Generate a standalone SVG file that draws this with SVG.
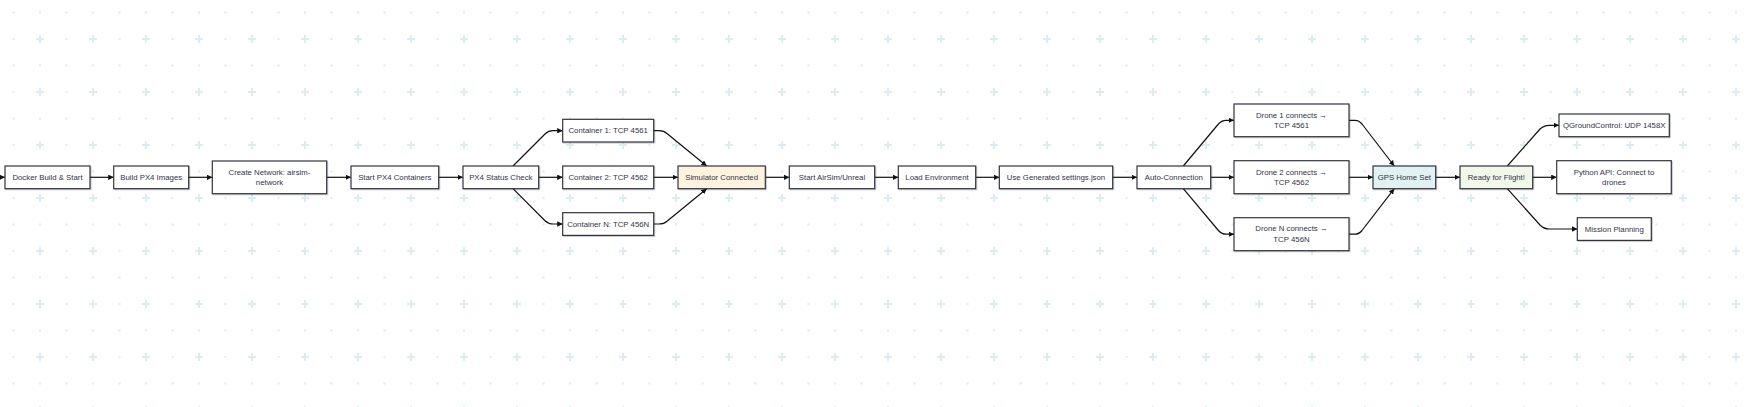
<svg xmlns="http://www.w3.org/2000/svg" width="1752" height="407" viewBox="0 0 1752 407">
<defs>
<pattern id="grid" patternUnits="userSpaceOnUse" x="0" y="0" width="53" height="53">
<circle cx="13.5" cy="12.5" r="1.3" fill="#ddf0f3"/>
<circle cx="40" cy="12.5" r="1.3" fill="#ddf0f3"/>
<circle cx="13.5" cy="39" r="1.3" fill="#ddf0f3"/>
<rect x="36" y="38" width="8" height="2" fill="#daeef2"/>
<rect x="39" y="35" width="2" height="8" fill="#daeef2"/>
</pattern>
<marker id="arr" viewBox="0 0 10 10" refX="10" refY="5" markerWidth="5.5" markerHeight="5.5" orient="auto" markerUnits="userSpaceOnUse">
<path d="M0,0 L10,5 L0,10 z" fill="#111"/>
</marker>
<filter id="sh" x="-10%" y="-20%" width="120%" height="150%">
<feDropShadow dx="1" dy="1" stdDeviation="0.6" flood-color="#000" flood-opacity="0.2"/>
</filter>
<style>
.n rect{fill:#fff;stroke:#333340;stroke-width:1.2;filter:url(#sh)}
.n text{font-family:"Liberation Sans",Arial,sans-serif;font-size:7.8px;fill:#333348;text-anchor:middle;dominant-baseline:central}
.sim rect{fill:#fff3e0}
.gps rect{fill:#e0f2f1}
.rdy rect{fill:#f1f8e9}
.e path{fill:none;stroke:#111;stroke-width:1.2;marker-end:url(#arr)}
</style>
</defs>
<rect width="1752" height="407" fill="#fff"/>
<rect width="1752" height="407" fill="url(#grid)"/>

<g id="connectors" class="e">
<path d="M-10,177.3 L5,177.3"/>
<path d="M90,177.3 L113.7,177.3"/>
<path d="M188.7,177.3 L212.3,177.3"/>
<path d="M326.7,177.3 L351,177.3"/>
<path d="M438.7,177.3 L463,177.3"/>
<path d="M513,166 L545,134 Q548.5,130.7 553,130.7 L562.7,130.7"/>
<path d="M538.7,177.3 L562.7,177.3"/>
<path d="M513,188.7 L545,220.7 Q548.5,224 553,224 L562.7,224"/>
<path d="M653.7,130.7 L659,130.7 Q664,130.7 667,133.5 L706.7,166"/>
<path d="M653.7,177.3 L678,177.3"/>
<path d="M653.7,224 L659,224 Q664,224 667,221.2 L706.7,188.7"/>
<path d="M765.3,177.3 L789.3,177.3"/>
<path d="M874.7,177.3 L898.3,177.3"/>
<path d="M975.7,177.3 L999.3,177.3"/>
<path d="M1112.7,177.3 L1137,177.3"/>
<path d="M1183.3,166 L1218,124.5 Q1221.5,120.3 1226,120.3 L1234,120.3"/>
<path d="M1210.7,177.3 L1234,177.3"/>
<path d="M1183.3,188.7 L1218,230 Q1221.5,234.2 1226,234.2 L1234,234.2"/>
<path d="M1349,120.3 L1355,120.3 Q1359,120.3 1362,124 L1394.3,166"/>
<path d="M1349,177.3 L1373,177.3"/>
<path d="M1349,234.2 L1355,234.2 Q1359,234.2 1362,230.5 L1394.3,188.7"/>
<path d="M1435.7,177.3 L1460,177.3"/>
<path d="M1507.3,166 L1540,129 Q1544,125.3 1549,125.3 L1559,125.3"/>
<path d="M1532.7,177.3 L1556.7,177.3"/>
<path d="M1507.3,188.7 L1540,225 Q1544,229 1549,229 L1577.3,229"/>
</g>

<g id="docker" class="n"><rect x="5" y="166" width="85" height="22.7"/><text x="47.5" y="177.3">Docker Build &amp; Start</text></g>
<g id="buildpx4" class="n"><rect x="113.7" y="166" width="75" height="22.7"/><text x="151.2" y="177.3">Build PX4 Images</text></g>
<g id="network" class="n"><rect x="212.3" y="161" width="114.4" height="32.7"/><text x="269.5" y="172.6">Create Network: airsim-</text><text x="269.5" y="182.3">network</text></g>
<g id="startpx4" class="n"><rect x="351" y="166" width="87.7" height="22.7"/><text x="394.8" y="177.3">Start PX4 Containers</text></g>
<g id="status" class="n"><rect x="463" y="166" width="75.7" height="22.7"/><text x="500.8" y="177.3">PX4 Status Check</text></g>
<g id="c1" class="n"><rect x="562.7" y="119.3" width="91" height="22.7"/><text x="608.2" y="130.7">Container 1: TCP 4561</text></g>
<g id="c2" class="n"><rect x="562.7" y="166" width="91" height="22.7"/><text x="608.2" y="177.3">Container 2: TCP 4562</text></g>
<g id="cn" class="n"><rect x="562.7" y="212.7" width="91" height="22.7"/><text x="608.2" y="224">Container N: TCP 456N</text></g>
<g id="sim" class="n sim"><rect x="678" y="166" width="87.3" height="22.7"/><text x="721.6" y="177.3">Simulator Connected</text></g>
<g id="airsim" class="n"><rect x="789.3" y="166" width="85.4" height="22.7"/><text x="832" y="177.3">Start AirSim/Unreal</text></g>
<g id="loadenv" class="n"><rect x="898.3" y="166" width="77.4" height="22.7"/><text x="937" y="177.3">Load Environment</text></g>
<g id="settings" class="n"><rect x="999.3" y="166" width="113.4" height="22.7"/><text x="1056" y="177.3">Use Generated settings.json</text></g>
<g id="auto" class="n"><rect x="1137" y="166" width="73.7" height="22.7"/><text x="1173.8" y="177.3">Auto-Connection</text></g>
<g id="d1" class="n"><rect x="1234" y="104" width="115" height="32.7"/><text x="1291.5" y="115.4">Drone 1 connects →</text><text x="1291.5" y="125.4">TCP 4561</text></g>
<g id="d2" class="n"><rect x="1234" y="160.7" width="115" height="33"/><text x="1291.5" y="172.3">Drone 2 connects →</text><text x="1291.5" y="182.3">TCP 4562</text></g>
<g id="dn" class="n"><rect x="1234" y="217.7" width="115" height="33"/><text x="1291.5" y="228.8">Drone N connects →</text><text x="1291.5" y="239.3">TCP 456N</text></g>
<g id="gps" class="n gps"><rect x="1373" y="166" width="62.7" height="22.7"/><text x="1404.3" y="177.3">GPS Home Set</text></g>
<g id="ready" class="n rdy"><rect x="1460" y="166" width="72.7" height="22.7"/><text x="1496.3" y="177.3">Ready for Flight!</text></g>
<g id="qgc" class="n"><rect x="1559" y="114" width="110.3" height="22.7"/><text x="1614.2" y="125.3">QGroundControl: UDP 1458X</text></g>
<g id="python" class="n"><rect x="1556.7" y="160.7" width="114.6" height="33"/><text x="1614" y="172.3">Python API: Connect to</text><text x="1614" y="182.3">drones</text></g>
<g id="mission" class="n"><rect x="1577.3" y="217.7" width="74" height="22.7"/><text x="1614.3" y="229">Mission Planning</text></g>
</svg>
